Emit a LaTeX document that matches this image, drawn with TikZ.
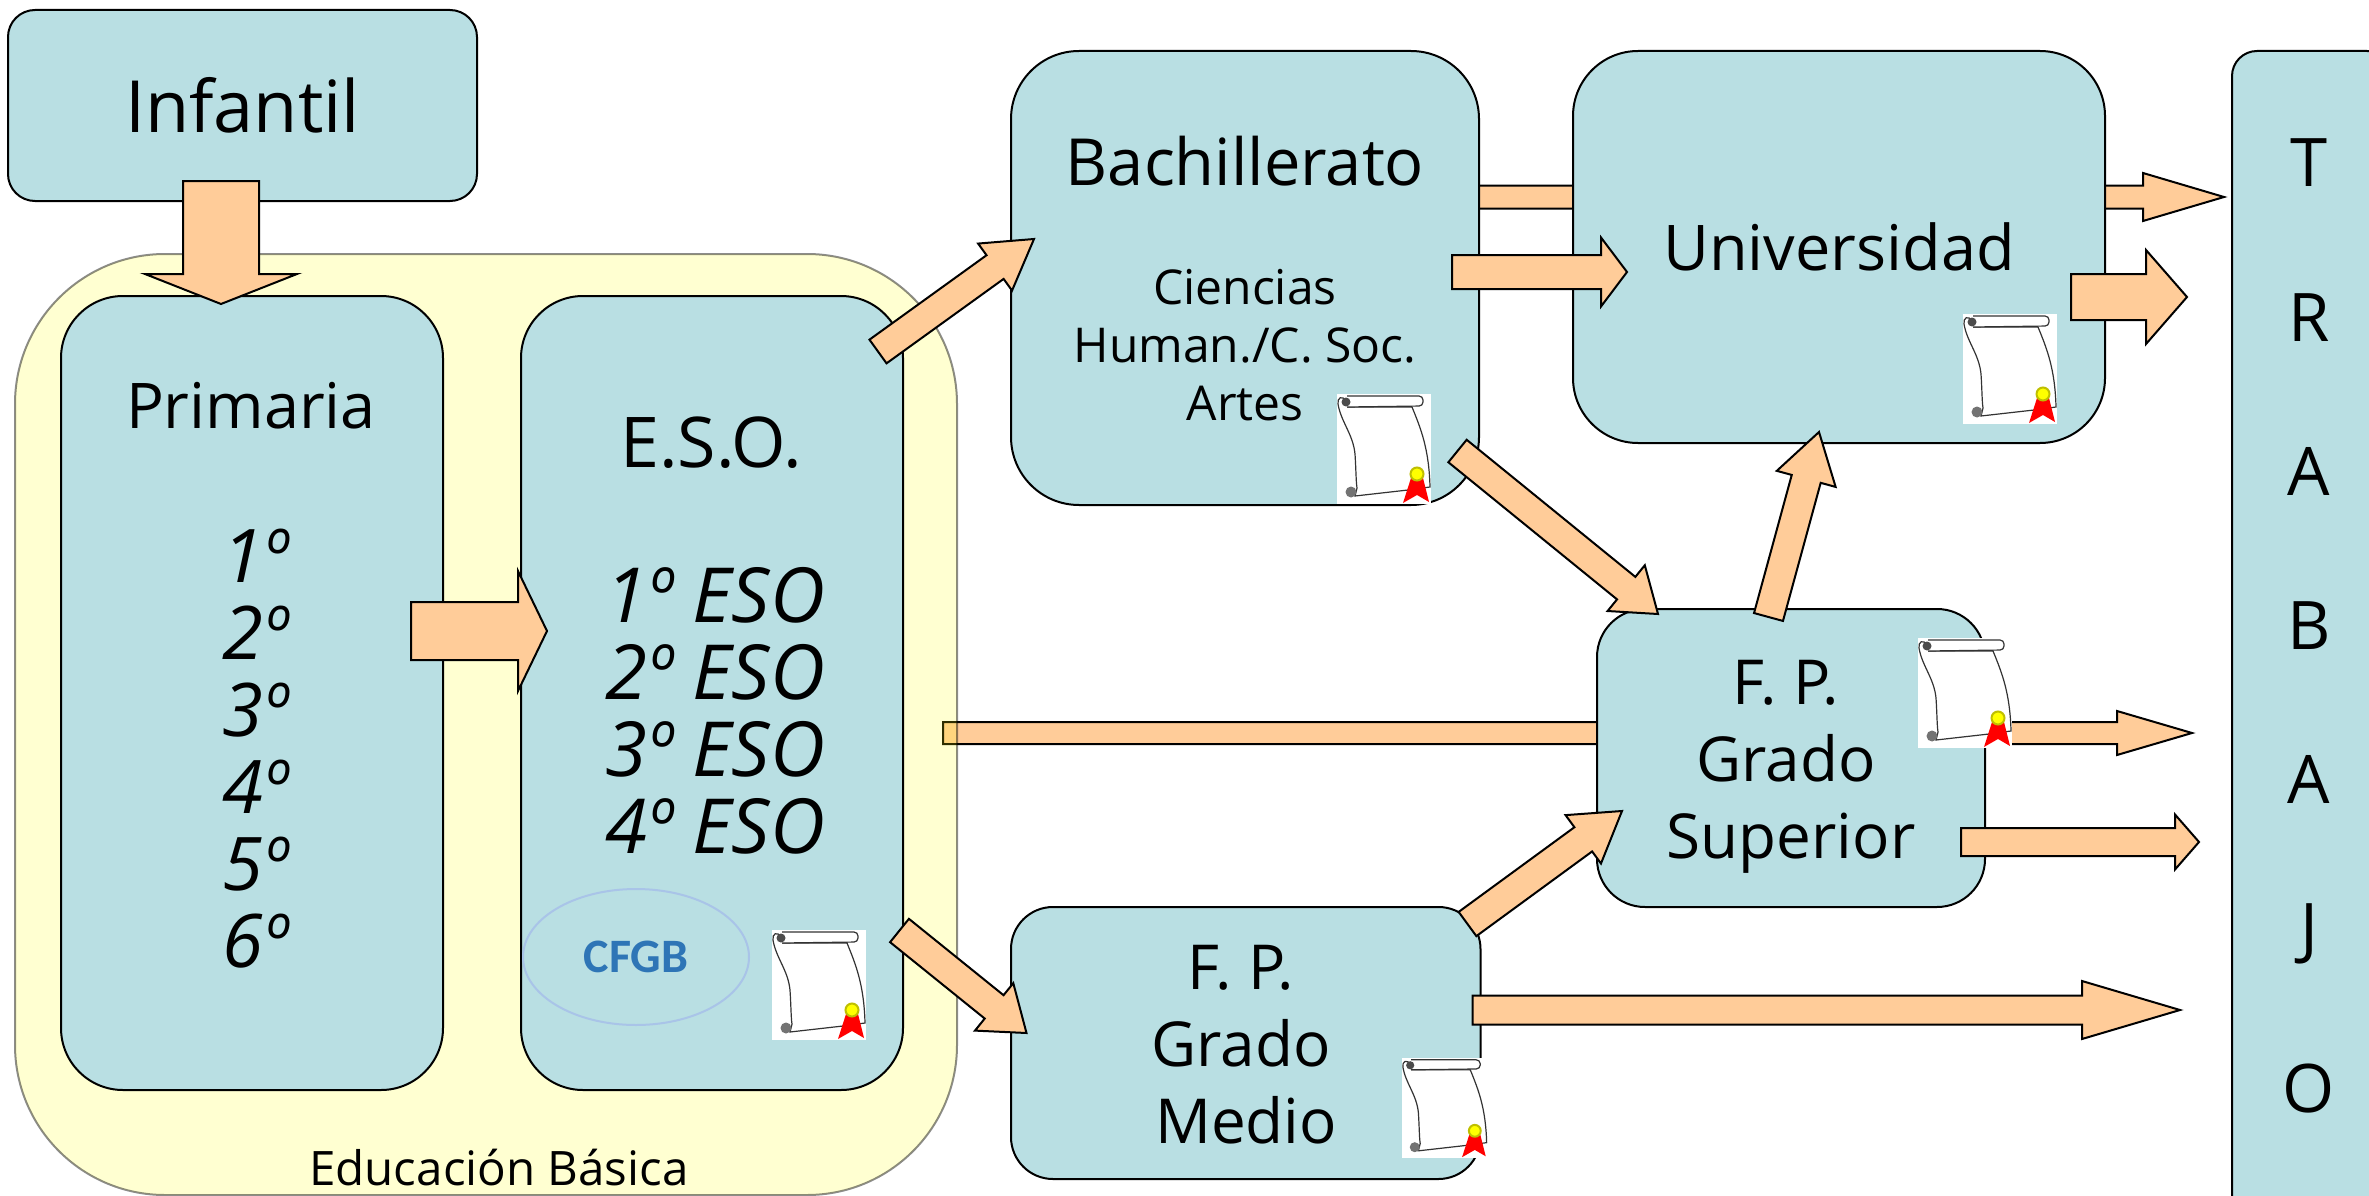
\documentclass[tikz,border=0pt]{standalone}
\usepackage{fontspec}
\setmainfont{Open Sans}
\newfontfamily\cfgbfont{Carlito}
\usepackage{xcolor}
\usetikzlibrary{calc, positioning, shapes.geometric}

\definecolor{cajacol}{HTML}{B9DFE3}
\definecolor{flechacol}{HTML}{FFCC99}
\definecolor{cfgbcol}{HTML}{2E75B6}
\definecolor{elipcol}{HTML}{A9C4E8}
\definecolor{amarillo}{RGB}{255,255,0}

\begin{document}
\begin{tikzpicture}[
  x=1pt, y=-1pt,
  caja/.style={draw, fill=cajacol, line width=2pt, outer sep=0pt, align=center, font=\fontsize{67}{78}\selectfont},
  texto/.style={align=center, inner sep=0pt, font=\fontsize{67}{78}\selectfont},
  lista/.style={texto, font=\fontsize{74}{77}\selectfont\itshape},
  flecha/.style n args={3}{fill=flechacol, draw=black, line width=2pt, to path={
    ($(\tikztostart)!#1!90:(\tikztotarget)$)
    -- ($($(\tikztotarget)!#3!(\tikztostart)$)!#1!90:(\tikztotarget)$)
    -- ($($(\tikztotarget)!#3!(\tikztostart)$)!#2!90:(\tikztotarget)$)
    -- (\tikztotarget)
    -- ($($(\tikztotarget)!#3!(\tikztostart)$)!#2!-90:(\tikztotarget)$)
    -- ($($(\tikztotarget)!#3!(\tikztostart)$)!#1!-90:(\tikztotarget)$)
    -- ($(\tikztostart)!#1!-90:(\tikztotarget)$) -- cycle}},
  pics/diploma/.style={code={
    \fill[white] (0,0) rectangle (94,110);
    \draw[black!80, line width=1.2pt, fill=white] (10,8) .. controls (5,0) and (0,4) .. (1,10) .. controls (4,28) and (16,40) .. (18,60) .. controls (19,75) and (19,88) .. (20,94) -- (18,102) -- (71,96) -- (93,93) .. controls (92,55) and (84,35) .. (75,13) -- (10,13);
    \draw[black!80, line width=1.2pt, fill=white, rounded corners=4pt] (10,2) -- (86,2) -- (86,12) -- (10,13);
    \fill[black!70] (9,8) circle (4.5);
    \fill[black!55] (14,98) circle (5.5);
    \fill[red] (66,109) -- (74,84) -- (86,84) -- (92,108) -- (80,101) -- cycle;
    \draw[amarillo!50!olive, fill=amarillo, line width=2pt] (80,80) circle (6.5);
  }}
]
\useasboundingbox (0,0) rectangle (2369,1196);
\clip (0,0) rectangle (2369,1196);

% Free ends of the arrows
\coordinate (infOut) at (221,181);     \coordinate (priIn) at (221,304);
\coordinate (priOut) at (411,631);     \coordinate (esoIn) at (547,631);
\coordinate (esoUp) at (878,351.5);    \coordinate (bacIn) at (1034,239);
\coordinate (esoDown) at (899.5,930.5); \coordinate (medIn) at (1026.5,1033);
\coordinate (esoBar) at (943,733);     \coordinate (traA) at (2192,733);
\coordinate (bacBar) at (1400,197);    \coordinate (traB) at (2224,197);
\coordinate (bacOut) at (1452,272);    \coordinate (uniIn) at (1627,272);
\coordinate (bacDown) at (1457.5,451); \coordinate (supInA) at (1658,614);
\coordinate (supUp) at (1768.5,617);   \coordinate (uniInB) at (1819,432);
\coordinate (medUp) at (1467.5,924);   \coordinate (supInB) at (1622,811);
\coordinate (uniOut) at (2071,297);    \coordinate (traC) at (2187,297);
\coordinate (supOut) at (1961,842);    \coordinate (traD) at (2199,842);
\coordinate (medOut) at (1472.5,1010); \coordinate (traE) at (2180,1010);

% Arrows that run behind the boxes
\draw[flecha={11pt}{22pt}{75pt}] (esoBar) to (traA);
\draw[flecha={11.5pt}{24pt}{81pt}] (bacBar) to (traB);

% Educacion Basica
\node[draw=black, fill=amarillo, fill opacity=.18, draw opacity=.45, line width=2pt, rounded corners=150pt, minimum width=942pt, minimum height=941pt] (basica) at (486,724.5) {};
\node[texto, font=\fontsize{47.5}{58}\selectfont] (basicaT) at (499,1168) {Educación Básica};

% Boxes
\node[caja, rounded corners=27pt, minimum width=469pt, minimum height=191pt, font=\fontsize{72}{80}\selectfont] (infantil) at (242.5,105.5) {Infantil};
\node[caja, rounded corners=62pt, minimum width=382pt, minimum height=794pt] (primaria) at (252,693) {};
\node[caja, rounded corners=62pt, minimum width=382pt, minimum height=794pt, right=78pt of primaria] (eso) {};
\node[caja, rounded corners=68pt, minimum width=468pt, minimum height=454pt] (bachillerato) at (1245,278) {};
\node[caja, rounded corners=65pt, minimum width=532pt, minimum height=392pt, font=\fontsize{63}{78}\selectfont] (universidad) at (1839,247) {Universidad};
\node[caja, rounded corners=48pt, minimum width=388pt, minimum height=298pt] (superior) at (1791,758) {};
\node[caja, rounded corners=42pt, minimum width=469.5pt, minimum height=272pt] (medio) at (1245.75,1043) {};
\node[caja, rounded corners=25pt, minimum width=160pt, minimum height=1199pt] (trabajo) at (2312,650.5) {};

% Texts
\node[texto, font=\fontsize{63}{78}\selectfont] (primariaT) at (251,406) {Primaria};
\node[lista] (primariaL) at (255,749) {1º\\2º\\3º\\4º\\5º\\6º};
\node[texto, font=\fontsize{70}{78}\selectfont] (esoT) at (711,443) {E.S.O.};
\node[lista, font=\fontsize{76}{77}\selectfont\itshape] (esoL) at (715,711) {1º ESO\\2º ESO\\3º ESO\\4º ESO};
\node[texto, font=\fontsize{65}{78}\selectfont] (bachT) at (1245,161) {Bachillerato};
\node[texto, font=\fontsize{48}{58}\selectfont] (bachL) at (1245,345) {Ciencias\\Human./C. Soc.\\Artes};
\node[texto, font=\fontsize{62}{77}\selectfont] (superiorT) at (1786,767) {F. P.\\Grado\\\hspace*{10pt}Superior};
\node[texto, font=\fontsize{62}{77}\selectfont] (medioT) at (1241,1045) {F. P.\\Grado\\\hspace*{10pt}Medio};
\foreach \letra [count=\i] in {T,R,A,B,A,J,O}
  \node[texto] (letra\i) at (2309,{163+154.2*(\i-1)}) {\letra};

% CFGB
\node[ellipse, draw=elipcol, line width=2pt, minimum width=226pt, minimum height=136pt, text=cfgbcol, font=\fontsize{48}{54}\selectfont\cfgbfont\bfseries] (cfgb) at (636,957) {CFGB};

% Arrows
\draw[flecha={38pt}{76pt}{30pt}] (infOut) to (priIn);
\draw[flecha={29pt}{60pt}{29pt}] (priOut) to (esoIn);
\draw[flecha={14.6pt}{29pt}{48pt}] (esoUp) to (bacIn);
\draw[flecha={15pt}{30.5pt}{41.6pt}] (esoDown) to (medIn);
\draw[flecha={17pt}{34.5pt}{26pt}] (bacOut) to (uniIn);
\draw[flecha={14.5pt}{29.5pt}{41pt}] (bacDown) to (supInA);
\draw[flecha={15pt}{30.5pt}{48.6pt}] (supUp) to (uniInB);
\draw[flecha={15pt}{30pt}{48pt}] (medUp) to (supInB);
\draw[flecha={23pt}{47pt}{41pt}] (uniOut) to (traC);
\draw[flecha={14pt}{27.5pt}{24pt}] (supOut) to (traD);
\draw[flecha={14.5pt}{29pt}{98pt}] (medOut) to (traE);

% Diplomas
\pic (dipEso) at (772,930) {diploma};
\pic (dipBach) at (1337,394) {diploma};
\pic (dipUni) at (1963,314) {diploma};
\pic (dipSup) at (1918,638) {diploma};
\pic[scale=.91] (dipMed) at (1402,1058) {diploma};

\end{tikzpicture}
\end{document}
